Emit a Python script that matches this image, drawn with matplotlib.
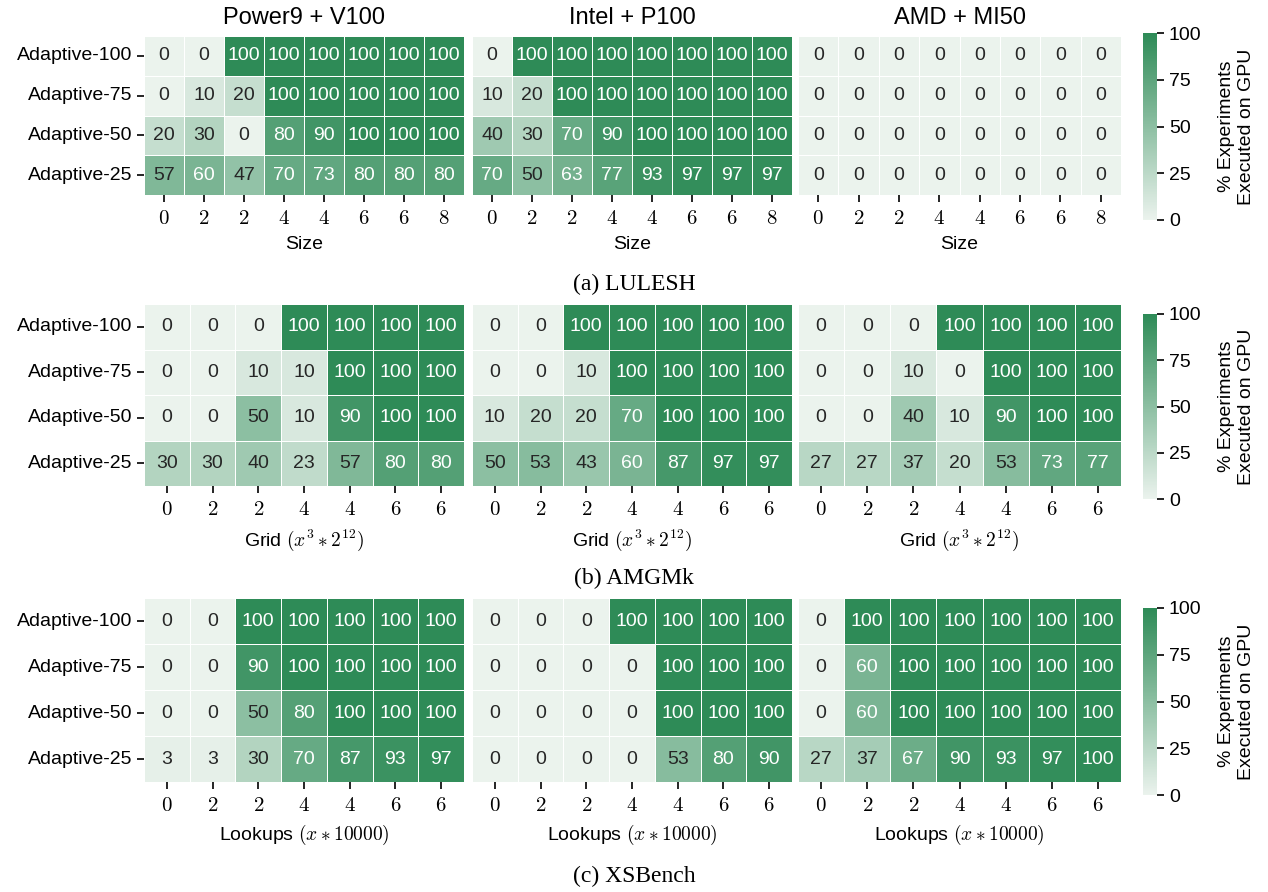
import numpy as np
import matplotlib
matplotlib.use("Agg")
import matplotlib.pyplot as plt
import seaborn as sns

plt.rcParams['font.family'] = ['Liberation Sans', 'DejaVu Sans']
plt.rcParams['mathtext.fontset'] = 'cm'

rows = ['Adaptive-100', 'Adaptive-75', 'Adaptive-50', 'Adaptive-25']
systems = ['Power9 + V100', 'Intel + P100', 'AMD + MI50']

lulesh_ticks = ['0', '2', '2', '4', '4', '6', '6', '8']
amg_ticks = ['0', '2', '2', '4', '4', '6', '6']
xs_ticks = ['0', '2', '2', '4', '4', '6', '6']

lulesh_power9 = [[0, 0, 100, 100, 100, 100, 100, 100],
                 [0, 10, 20, 100, 100, 100, 100, 100],
                 [20, 30, 0, 80, 90, 100, 100, 100],
                 [57, 60, 47, 70, 73, 80, 80, 80]]
lulesh_intel = [[0, 100, 100, 100, 100, 100, 100, 100],
                [10, 20, 100, 100, 100, 100, 100, 100],
                [40, 30, 70, 90, 100, 100, 100, 100],
                [70, 50, 63, 77, 93, 97, 97, 97]]
lulesh_amd = [[0] * 8, [0] * 8, [0] * 8, [0] * 8]

amg_power9 = [[0, 0, 0, 100, 100, 100, 100],
              [0, 0, 10, 10, 100, 100, 100],
              [0, 0, 50, 10, 90, 100, 100],
              [30, 30, 40, 23, 57, 80, 80]]
amg_intel = [[0, 0, 100, 100, 100, 100, 100],
             [0, 0, 10, 100, 100, 100, 100],
             [10, 20, 20, 70, 100, 100, 100],
             [50, 53, 43, 60, 87, 97, 97]]
amg_amd = [[0, 0, 0, 100, 100, 100, 100],
           [0, 0, 10, 0, 100, 100, 100],
           [0, 0, 40, 10, 90, 100, 100],
           [27, 27, 37, 20, 53, 73, 77]]

xs_power9 = [[0, 0, 100, 100, 100, 100, 100],
             [0, 0, 90, 100, 100, 100, 100],
             [0, 0, 50, 80, 100, 100, 100],
             [3, 3, 30, 70, 87, 93, 97]]
xs_intel = [[0, 0, 0, 100, 100, 100, 100],
            [0, 0, 0, 0, 100, 100, 100],
            [0, 0, 0, 0, 100, 100, 100],
            [0, 0, 0, 0, 53, 80, 90]]
xs_amd = [[0, 100, 100, 100, 100, 100, 100],
          [0, 60, 100, 100, 100, 100, 100],
          [0, 60, 100, 100, 100, 100, 100],
          [27, 37, 67, 90, 93, 97, 100]]

benchmarks = [
    ('(a) LULESH', 'Size', lulesh_ticks, [lulesh_power9, lulesh_intel, lulesh_amd]),
    ('(b) AMGMk', r'Grid $(x^3 * 2^{12})$', amg_ticks, [amg_power9, amg_intel, amg_amd]),
    ('(c) XSBench', r'Lookups $(x * 10000)$', xs_ticks, [xs_power9, xs_intel, xs_amd]),
]

W, H = 1268, 892


def rect(x0, y0, x1, y1):
    return [x0 / W, 1 - y1 / H, (x1 - x0) / W, (y1 - y0) / H]


col_x = [(144, 464), (472, 792), (798, 1121)]
row_y = [(36, 195), (304, 486), (598, 782)]
cbar_y = [(33, 220), (314, 499), (608, 795)]
caption_y = [284, 578, 876]

cmap = sns.light_palette('seagreen', as_cmap=True)

fig = plt.figure(figsize=(W / 100, H / 100), dpi=100)

for r, (caption, xlabel, ticks, mats) in enumerate(benchmarks):
    cax = fig.add_axes(rect(1143, cbar_y[r][0], 1157, cbar_y[r][1]))
    for c, mat in enumerate(mats):
        ax = fig.add_axes(rect(col_x[c][0], row_y[r][0], col_x[c][1], row_y[r][1]))
        sns.heatmap(np.array(mat), ax=ax, cmap=cmap, vmin=0, vmax=100,
                    annot=True, fmt='d', annot_kws={'size': 14},
                    linewidths=0.5, linecolor='white',
                    cbar=(c == 0), cbar_ax=cax if c == 0 else None,
                    xticklabels=['$%s$' % t for t in ticks],
                    yticklabels=rows if c == 0 else False)
        ax.set_aspect('auto')
        ax.tick_params(axis='x', length=5, width=1.2, labelsize=15, rotation=0, pad=5)
        ax.tick_params(axis='y', length=5, width=1.2, labelsize=14, rotation=0)
        ax.set_xlabel(xlabel, fontsize=14, labelpad=6)
        if r == 0:
            ax.set_title(systems[c], fontsize=17, pad=9)
    cax.tick_params(length=5, width=1.2, labelsize=14)
    cax.set_yticks([0, 25, 50, 75, 100])
    cax.set_ylabel('% Experiments\nExecuted on GPU', fontsize=14, labelpad=12)
    for s in cax.spines.values():
        s.set_visible(False)
    fig.text(0.5, 1 - caption_y[r] / H, caption, ha='center', va='center',
             fontsize=17, family='Liberation Serif')

fig.savefig('out.png', dpi=100)
